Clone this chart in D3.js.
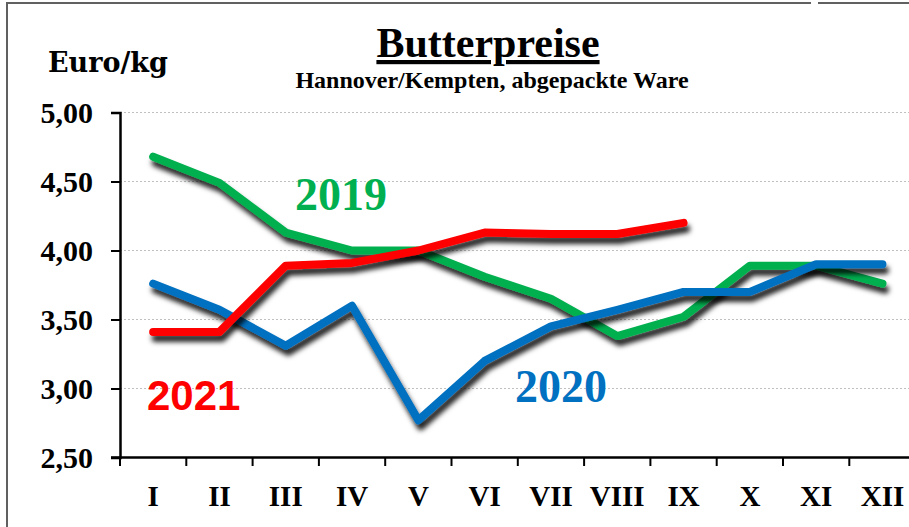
<!DOCTYPE html>
<html lang="de">
<head>
<meta charset="utf-8">
<title>Butterpreise</title>
<script src="https://d3js.org/d3.v7.min.js"></script>
<style>
  html, body { margin: 0; padding: 0; background: #fff; }
  svg { display: block; }
  .serif { font-family: "Liberation Serif", "Times New Roman", serif; font-weight: bold; }
  .axis path, .axis line { stroke: #000; }
</style>
</head>
<body>
<svg id="chart" width="909" height="527"></svg>
<script>
// Data
const months = ["I", "II", "III", "IV", "V", "VI", "VII", "VIII", "IX", "X", "XI", "XII"];
const y2019 = [4.68, 4.49, 4.13, 4.00, 4.00, 3.81, 3.65, 3.38, 3.52, 3.89, 3.89, 3.76];
const y2020 = [3.76, 3.57, 3.31, 3.60, 2.77, 3.20, 3.45, 3.57, 3.70, 3.70, 3.90, 3.90];
const y2021 = [3.41, 3.41, 3.89, 3.91, 4.00, 4.13, 4.12, 4.12, 4.20];
const yTicks = [2.5, 3.0, 3.5, 4.0, 4.5, 5.0];

const series = [
    { name: "2019", values: y2019, color: "#00B050" },
    { name: "2020", values: y2020, color: "#0070C0" },
    { name: "2021", values: y2021, color: "#FF0000" }
];

const svg = d3.select("#chart");
const W = 909, H = 527;

// plot area runs past the right edge like in the original
const x = d3.scaleBand().domain(months).range([120, 120 + 12 * 66.3]).padding(0);
const y = d3.scaleLinear().domain([2.5, 5]).range([457.5, 112.5]);

// shadow filter
const defs = svg.append("defs");
const f = defs.append("filter").attr("id", "shadow")
    .attr("x", "-10%").attr("y", "-20%").attr("width", "120%").attr("height", "140%");
f.append("feDropShadow")
    .attr("dx", 2.5).attr("dy", 6).attr("stdDeviation", 2.5)
    .attr("flood-color", "#000").attr("flood-opacity", 0.85);

// frame
svg.append("line").attr("x1", 7).attr("x2", 7).attr("y1", 3).attr("y2", H)
    .attr("stroke", "#606060").attr("stroke-width", 2);
svg.append("line").attr("x1", 6).attr("x2", 811).attr("y1", 3).attr("y2", 3)
    .attr("stroke", "#606060").attr("stroke-width", 2);
svg.append("line").attr("x1", 818).attr("x2", W).attr("y1", 3).attr("y2", 3)
    .attr("stroke", "#606060").attr("stroke-width", 2);

// gridlines
svg.append("g").selectAll("line")
    .data(yTicks.filter(d => d > 2.5))
    .join("line")
    .attr("x1", 120).attr("x2", W)
    .attr("y1", d => y(d)).attr("y2", d => y(d))
    .attr("stroke", "#c0c0c0").attr("stroke-width", 1)
    .attr("stroke-dasharray", "2,2");

// lines
const line = d3.line()
    .x((d, i) => x(months[i]) + x.bandwidth() / 2)
    .y(d => y(d));

series.forEach(s => {
    svg.append("path")
        .datum(s.values)
        .attr("d", line)
        .attr("fill", "none")
        .attr("stroke", s.color)
        .attr("stroke-width", 8)
        .attr("stroke-linejoin", "round")
        .attr("stroke-linecap", "round")
        .attr("filter", "url(#shadow)");
});

// y axis
const yAxis = svg.append("g").attr("class", "axis")
    .attr("transform", "translate(120,0)")
    .call(d3.axisLeft(y).tickValues(yTicks).tickSize(9).tickPadding(18)
        .tickFormat(d => d.toFixed(2).replace(".", ",")));
yAxis.select(".domain").attr("stroke-width", 2.5);
yAxis.selectAll(".tick line").attr("stroke-width", 2);
yAxis.selectAll("text").attr("class", "serif").attr("font-size", 30).attr("fill", "#000");

// x axis
const xAxis = svg.append("g").attr("class", "axis")
    .attr("transform", "translate(0,457.5)")
    .call(d3.axisBottom(x).tickSize(0).tickPadding(28));
xAxis.select(".domain").remove();
xAxis.selectAll("text").attr("class", "serif").attr("font-size", 29).attr("fill", "#000");
svg.append("line").attr("x1", 111).attr("x2", W).attr("y1", 457.5).attr("y2", 457.5)
    .attr("stroke", "#000").attr("stroke-width", 2.5);
svg.append("g").selectAll("line")
    .data(months)
    .join("line")
    .attr("x1", d => x(d)).attr("x2", d => x(d))
    .attr("y1", 457.5).attr("y2", 466)
    .attr("stroke", "#000").attr("stroke-width", 2);

// titles
svg.append("text").attr("class", "serif")
    .attr("x", 488).attr("y", 57).attr("text-anchor", "middle")
    .attr("font-size", 42).attr("text-decoration", "underline")
    .text("Butterpreise");
svg.append("text").attr("class", "serif")
    .attr("x", 492).attr("y", 88).attr("text-anchor", "middle")
    .attr("font-size", 24)
    .text("Hannover/Kempten, abgepackte Ware");
svg.append("text")
    .attr("x", 48).attr("y", 72)
    .attr("font-family", "'DejaVu Serif', serif").attr("font-weight", "bold")
    .attr("font-size", 27)
    .text("Euro/kg");

// series labels
svg.append("text").attr("class", "serif")
    .attr("x", 295).attr("y", 210).attr("font-size", 46).attr("fill", series[0].color)
    .text(series[0].name);
svg.append("text").attr("class", "serif")
    .attr("x", 515).attr("y", 402).attr("font-size", 46).attr("fill", series[1].color)
    .text(series[1].name);
svg.append("text")
    .attr("x", 147).attr("y", 410)
    .attr("font-family", "'Liberation Sans', Arial, sans-serif").attr("font-weight", "bold")
    .attr("font-size", 42).attr("fill", series[2].color)
    .text(series[2].name);
</script>
</body>
</html>
